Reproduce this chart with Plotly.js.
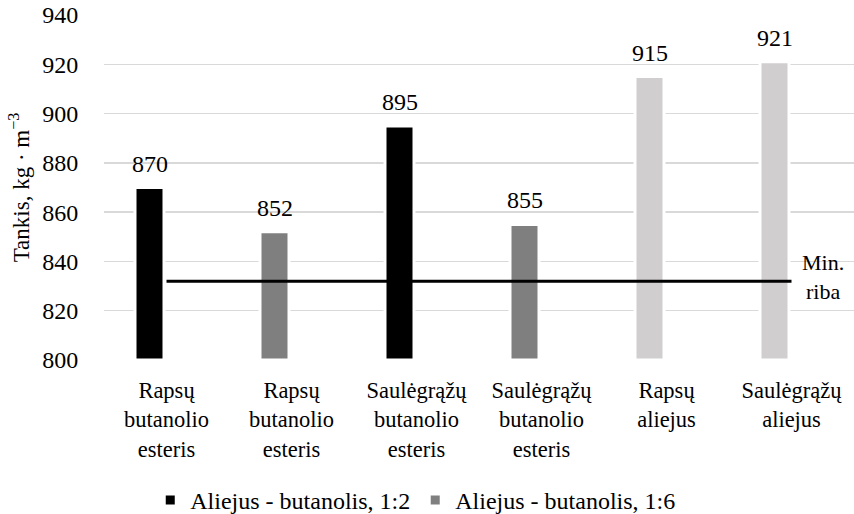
<!DOCTYPE html>
<html>
<head>
<meta charset="utf-8">
<script src="https://cdn.plot.ly/plotly-3.0.1.min.js"></script>
<style>html,body{margin:0;padding:0;background:#fff;}#chart{width:854px;height:514px;}</style>
</head>
<body>
<div id="chart"></div>
<script>
const categories = [
  "Rapsų<br>butanolio<br>esteris",
  "Rapsų<br>butanolio<br>esteris",
  "Saulėgrąžų<br>butanolio<br>esteris",
  "Saulėgrąžų<br>butanolio<br>esteris",
  "Rapsų<br>aliejus",
  "Saulėgrąžų<br>aliejus"
];
const series12 = [870, null, 895, null, null, null];
const series16 = [null, 852, null, 855, null, null];
const seriesOil = [null, null, null, null, 915, 921];
const minRiba = [832, 832, 832, 832, 832, 832];
const seriesNames = ["Aliejus - butanolis, 1:2", "Aliejus - butanolis, 1:6", "Aliejus"];
const yTicks = [800, 820, 840, 860, 880, 900, 920, 940];

const idx = categories.map((_, i) => i);
const FONT = "Liberation Serif";

function barTrace(vals, name, color, showlegend) {
  return {
    type: "bar", x: idx, y: vals.map(v => v === null ? null : v - 800), base: 800,
    name: name, showlegend: showlegend,
    width: 0.232, offset: -0.252,
    marker: { color: color, line: { color: "#ffffff", width: 3 } },
    hoverinfo: "skip"
  };
}

const traces = [
  barTrace(series12, seriesNames[0], "#000000", true),
  barTrace(series16, seriesNames[1], "#7f7f7f", true),
  barTrace(seriesOil, seriesNames[2], "#d0cece", false),
  { type: "scatter", mode: "lines", x: idx, y: minRiba, showlegend: false,
    line: { color: "#000000", width: 3 }, hoverinfo: "skip" }
];

const annotations = [];
[series12, series16, seriesOil].forEach(s => s.forEach((v, i) => {
  if (v !== null) annotations.push({
    x: i, y: v, xref: "x", yref: "y", text: String(v), showarrow: false,
    xshift: -17, yshift: 24, yanchor: "middle",
    font: { family: FONT, size: 24, color: "#000" }
  });
}));
annotations.push({
  x: idx[idx.length - 1], y: minRiba[minRiba.length - 1], xref: "x", yref: "y",
  text: "Min.<br>riba", showarrow: false, xshift: 31, yshift: 4,
  font: { family: FONT, size: 22, color: "#000" }
});

const layout = {
  width: 854, height: 514,
  margin: { l: 104, r: 0, t: 15, b: 154, autoexpand: false },
  paper_bgcolor: "#fff", plot_bgcolor: "#fff",
  barmode: "overlay",
  font: { family: FONT, size: 24, color: "#000" },
  xaxis: {
    range: [-0.5, 5.5], tickvals: idx, ticktext: categories,
    showgrid: false, zeroline: false, showline: false, automargin: false,
    ticks: "outside", ticklen: 10, tickcolor: "rgba(0,0,0,0)",
    tickfont: { family: FONT, size: 22.5, color: "#000" }
  },
  yaxis: {
    range: [800, 940], tickvals: yTicks, automargin: false,
    showgrid: true, gridcolor: "#d9d9d9", gridwidth: 1.5,
    zeroline: false, showline: false,
    ticks: "outside", ticklen: 20, tickcolor: "rgba(0,0,0,0)",
    tickfont: { family: FONT, size: 24, color: "#000" },
    title: { text: "Tankis, kg · m<sup>−3</sup>", font: { family: FONT, size: 23, color: "#000" }, standoff: 6 }
  },
  legend: {
    orientation: "h", x: 0.415, xanchor: "center", y: -0.342, yanchor: "top",
    font: { family: FONT, size: 24, color: "#000" }, itemwidth: 30
  },
  annotations: annotations
};

Plotly.newPlot("chart", traces, layout, { displayModeBar: false, staticPlot: true });
</script>
</body>
</html>
